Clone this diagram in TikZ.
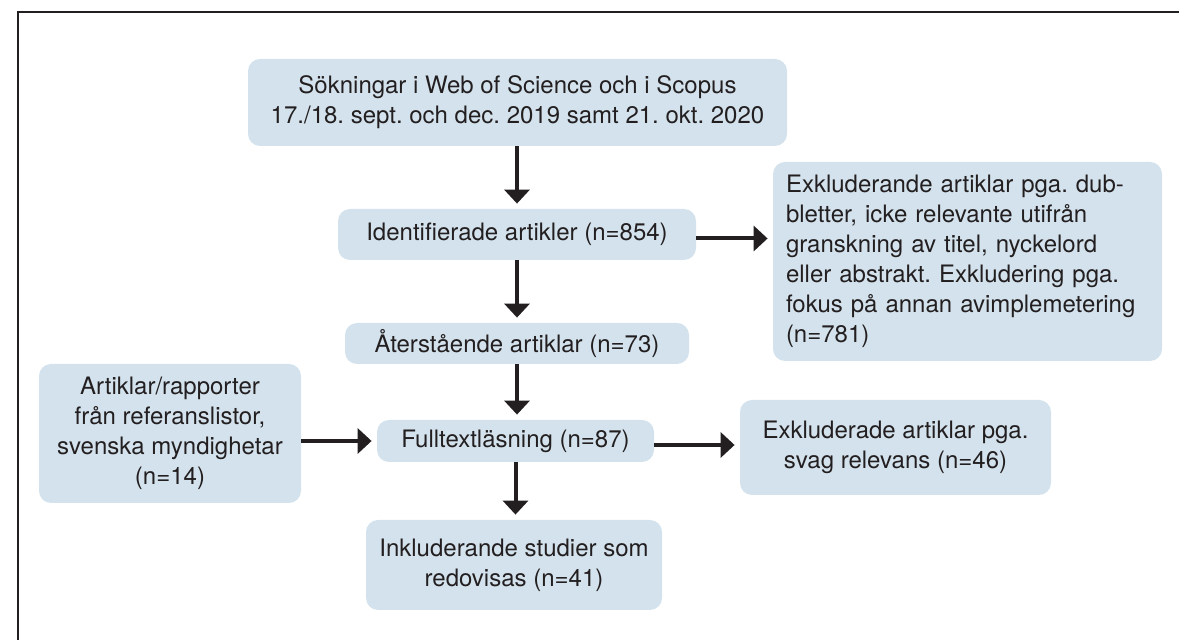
\documentclass[tikz,border=0pt]{standalone}
\usepackage{fontspec}
\setmainfont{TeX Gyre Heros}
\usetikzlibrary{arrows.meta}
\definecolor{boxfill}{RGB}{211,226,236}
\definecolor{ink}{RGB}{35,31,32}
\frenchspacing
\begin{document}
\begin{tikzpicture}[x=0.5pt,y=-0.5pt,
  box/.style={fill=boxfill, rounded corners=6pt, inner sep=0pt, text=ink,
    font=\fontsize{12}{15}\selectfont, align=center},
  arr/.style={draw=ink, line width=2pt, -{Triangle[width=12.5pt,length=7pt]}, shorten >=2.5pt},
  frame/.style={draw=ink, line width=0.6pt}]
\useasboundingbox (0,0) rectangle (1179,640);
\draw[frame] (18,640) -- (18,12) -- (1179,12);

\node[box, minimum width=269.5pt, minimum height=43.5pt] (b1) at (517.5,102.5)
  {Sökningar i Web of Science och i Scopus\\17./18. sept. och dec. 2019 samt 21. okt. 2020};
\node[box, minimum width=179pt, minimum height=25.5pt] (b2) at (517,234.5)
  {Identifierade artikler (n=854)};
\node[box, minimum width=194.5pt, minimum height=99.5pt, align=left, text width=181.5pt] (b3) at (967.5,261.5)
  {Exkluderande artiklar pga. dub-\\bletter, icke relevante utifrån\\granskning av titel, nyckelord\\eller abstrakt. Exkludering pga.\\fokus på annan avimplemetering\\(n=781)};
\node[box, minimum width=172pt, minimum height=20.5pt] (b4) at (517,343.5)
  {Återstående artiklar (n=73)};
\node[box, minimum width=138.5pt, minimum height=21pt] (b5) at (515.5,441)
  {Fulltextläsning (n=87)};
\node[box, minimum width=131pt, minimum height=69.5pt] (bL) at (170,433.5)
  {Artiklar/rapporter\\från referanslistor,\\svenska myndighetar\\(n=14)};
\node[box, minimum width=155.5pt, minimum height=47.5pt] (b6) at (895.5,447.5)
  {Exkluderade artiklar pga.\\svag relevans (n=46)};
\node[box, minimum width=148pt, minimum height=45pt] (b7) at (514,565)
  {Inkluderande studier som\\redovisas (n=41)};

\draw[arr] (b1.south -| b2.north) -- (b2.north);
\draw[arr] (b2.south) -- (b2.south |- b4.north);
\draw[arr] (b4.south) -- (b4.south |- b5.north);
\draw[arr] (b5.south) -- (b5.south |- b7.north);
\draw[arr] ([yshift=-2pt]b2.east) -- ([yshift=-2pt]b2.east -| b3.west);
\draw[arr] (bL.east |- b5.west) -- (b5.west);
\draw[arr] ([yshift=-2pt]b5.east) -- ([yshift=-2pt]b5.east -| b6.west);
\end{tikzpicture}
\end{document}
